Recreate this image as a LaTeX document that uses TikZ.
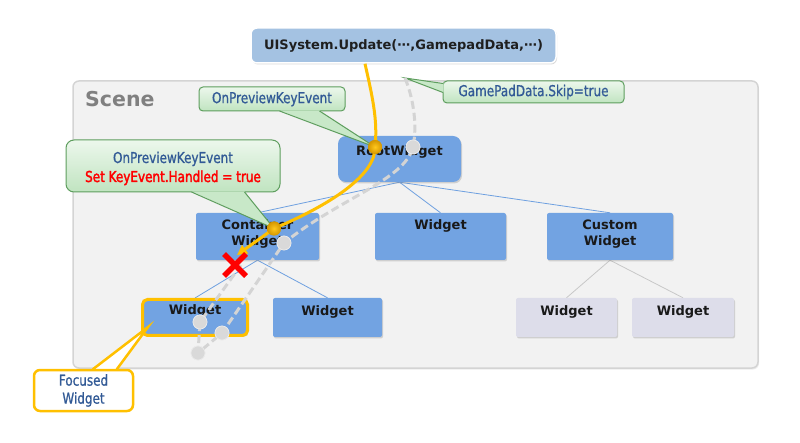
\documentclass[tikz,border=0pt]{standalone}
\usepackage{fontspec}
\setmainfont{DejaVu Sans}
\newfontfamily\callfont[FakeStretch=0.8,FakeBold=0.8]{DejaVu Sans}
\newfontfamily\redfont[FakeStretch=0.8,FakeBold=2.2]{DejaVu Sans}
\usetikzlibrary{shadows,arrows.meta}
\definecolor{wblue}{RGB}{114,163,226}
\definecolor{uiblue}{RGB}{164,194,226}
\definecolor{wgrey}{RGB}{221,221,234}
\definecolor{scenefill}{RGB}{242,242,242}
\definecolor{sceneline}{RGB}{212,212,212}
\definecolor{cgreen}{RGB}{94,158,94}
\definecolor{ctop}{RGB}{236,247,236}
\definecolor{cbot}{RGB}{192,228,192}
\definecolor{cmid}{RGB}{200,232,200}
\definecolor{ctext}{RGB}{50,90,150}
\definecolor{gold}{RGB}{255,192,0}
\definecolor{goldin}{RGB}{255,200,30}
\definecolor{goldout}{RGB}{212,150,0}
\definecolor{treeblue}{RGB}{110,160,224}
\definecolor{treegrey}{RGB}{200,200,200}
\definecolor{dashgrey}{RGB}{212,212,212}
\definecolor{dotgrey}{RGB}{217,217,217}
\pgfdeclarelayer{back}
\pgfdeclarelayer{mid}
\pgfsetlayers{back,mid,main}
\begin{document}
\begin{tikzpicture}[x=1pt,y=-1pt,
  wbox/.style={fill=wblue, rounded corners=2, inner sep=0,
    drop shadow={shadow xshift=1pt,shadow yshift=-1.5pt,opacity=0.3}},
  gbox/.style={wbox, fill=wgrey},
  wtext/.style={font=\bfseries\fontsize{13}{16.5}\selectfont, text=black!90, align=center, inner sep=0},
  callout/.style={draw=cgreen, line width=1, rounded corners=4, top color=ctop, bottom color=cbot,
    inner sep=0, font=\callfont\fontsize{15}{18}\selectfont, text=ctext, align=center},
  ptr/.style={fill=cmid},
  ptrline/.style={draw=cgreen, line width=1},
  tree/.style={draw=treeblue, line width=0.8},
  treeg/.style={draw=treegrey, line width=0.8},
  opath/.style={draw=gold, line width=3},
  gpath/.style={draw=dashgrey, line width=3, dash pattern=on 8pt off 4pt},
  odot/.style={circle, inner sep=0, minimum size=14, inner color=goldin, outer color=goldout},
  gdot/.style={circle, inner sep=0, minimum size=14, fill=dotgrey, draw=white!92!black, line width=0.6},
  xmark/.style={draw=red, line width=5.5}
]
\useasboundingbox (0,0) rectangle (800,443);

% scene panel
\begin{pgfonlayer}{back}
\node[fill=scenefill, draw=sceneline, line width=1.5, rounded corners=6,
  minimum width=685, minimum height=287, inner sep=0,
  drop shadow={shadow xshift=1pt,shadow yshift=-1.5pt,opacity=0.15}] (scene) at (415.5,224.5) {};
\end{pgfonlayer}
\node[anchor=north west, inner sep=0, font=\bfseries\fontsize{20.5}{24}\selectfont, text=black!50] (scenelbl) at (85,91) {Scene};

% widget boxes
\node[wbox, rounded corners=8, minimum width=123, minimum height=46,
  label={[wtext,anchor=north,yshift=-10]north:RootWidget}] (root) at (399.5,159) {};
\node[wbox, minimum width=123, minimum height=47,
  label={[wtext,anchor=north,yshift=-6.5]north:{Container\\Widget}}] (cont) at (257.5,236.5) {};
\node[wbox, minimum width=131, minimum height=47,
  label={[wtext,anchor=north,yshift=-7]north:Widget}] (mid) at (440.5,236.5) {};
\node[wbox, minimum width=126, minimum height=47,
  label={[wtext,anchor=north,yshift=-6.5]north:{Custom\\Widget}}] (cust) at (610,236.5) {};
\node[wbox, draw=gold, line width=3, rounded corners=5, minimum width=105, minimum height=36,
  label={[wtext,anchor=north,yshift=-6]north:Widget}] (focus) at (195,317.5) {};
\node[wbox, minimum width=109, minimum height=39,
  label={[wtext,anchor=north,yshift=-7.5]north:Widget}] (w2) at (327.5,317.5) {};
\node[gbox, minimum width=101, minimum height=39,
  label={[wtext,anchor=north,yshift=-7.5]north:Widget}] (g1) at (566.5,317.5) {};
\node[gbox, minimum width=102, minimum height=39,
  label={[wtext,anchor=north,yshift=-7.5]north:Widget}] (g2) at (683,317.5) {};

% tree connectors (behind boxes)
\begin{pgfonlayer}{mid}
\draw[tree] (root.south) -- (cont.north);
\draw[tree] (root.south) -- (mid.north);
\draw[tree] (root.south) -- (cust.north);
\draw[tree] (cont.south) -- (focus.north);
\draw[tree] (cont.south) -- (w2.north);
\draw[treeg] (cust.south) -- (g1.north);
\draw[treeg] (cust.south) -- (g2.north);
\end{pgfonlayer}

% UISystem box
\node[fill=uiblue, draw=white, line width=1.5, rounded corners=6, minimum width=305, minimum height=35, inner sep=0,
  font=\bfseries\fontsize{13}{15}\selectfont, text=black!88,
  drop shadow={shadow xshift=1pt,shadow yshift=-1.5pt,opacity=0.3}] (ui) at (403.5,45.5) {UISystem.Update(⋯,GamepadData,⋯)};

% dots (positions)
\node[odot] (od1) at (375,147) {};
\node[odot] (od2) at (274,228.5) {};
\coordinate (ostop) at (237,255);
\coordinate (gs) at (405,78);
\coordinate (gtop) at (241,265);

% callouts
\node[callout, minimum width=146, minimum height=24] (c1) at (272,99) {OnPreviewKeyEvent};
\fill[ptr] ([xshift=81,yshift=1.2]c1.south west) -- (od1.center) -- ([xshift=121,yshift=1.2]c1.south west) -- cycle;
\draw[ptrline] ([xshift=81,yshift=0.5]c1.south west) -- (od1.center) -- ([xshift=121,yshift=0.5]c1.south west);

\node[callout, rounded corners=8, minimum width=214, minimum height=52, text depth=0] (c2) at (173,166) {\rule{0pt}{13pt}OnPreviewKeyEvent\\[1pt]{\redfont\color{red}Set KeyEvent.Handled = true}};
\fill[ptr] ([xshift=126,yshift=1.2]c2.south west) -- (od2.center) -- ([xshift=179,yshift=1.2]c2.south west) -- cycle;
\draw[ptrline] ([xshift=126,yshift=0.5]c2.south west) -- (od2.center) -- ([xshift=179,yshift=0.5]c2.south west);

\node[callout, minimum width=181, minimum height=22] (c3) at (533.5,92) {GamePadData.Skip=true};
\fill[ptr] ([xshift=1.2,yshift=-3]c3.north west) -- (gs) -- ([xshift=1.2,yshift=-12]c3.north west) -- cycle;
\draw[ptrline] ([xshift=0.5,yshift=-3]c3.north west) -- (gs) -- ([xshift=0.5,yshift=-12]c3.north west);

\node[callout, draw=gold, line width=2.5, rounded corners=6, top color=white, bottom color=white,
  minimum width=99, minimum height=41] (c4) at (83.5,390.5) {Focused\\Widget};
\coordinate (ftip) at ([xshift=7,yshift=10]focus.south west);
\begin{pgfonlayer}{mid}
\fill[white] ([xshift=60,yshift=-1.5]c4.north west) -- (ftip) -- ([xshift=84,yshift=-1.5]c4.north west) -- cycle;
\end{pgfonlayer}
\draw[draw=gold, line width=2.5, line join=miter] ([xshift=60,yshift=-0.6]c4.north west) -- (ftip) -- ([xshift=84,yshift=-0.6]c4.north west);

% grey dots nodes
\node[gdot] (gd1) at (413,147) {};
\node[gdot] (gd2) at (284,243) {};
\node[gdot] (gd3) at (200,322) {};
\node[gdot] (gd4) at (222,333) {};
\node[gdot] (gd5) at (198,353) {};

% grey dashed path
\draw[gpath] (gs) .. controls (412,95) and (418,122) .. (gd1.center)
  .. controls (405,180) and (340,198) .. (gd2.center) -- (gd4.center) -- (gd5.center) -- (gd3.center) -- (gtop);

% orange path
\draw[opath, -{Triangle[length=10,width=10]}] ([xshift=-38.5]ui.south) .. controls (372,95) and (378,120) .. (od1.center)
  .. controls (376,175) and (330,205) .. (od2.center) -- (ostop);

% redraw dots on top
\node[odot] at (od1) {};
\node[odot] at (od2) {};
\foreach \d in {gd1,gd2,gd3,gd4,gd5} \node[gdot] at (\d) {};

% red X
\draw[xmark] (224,254) -- (246,276) (224,276) -- (246,254);
\end{tikzpicture}
\end{document}
